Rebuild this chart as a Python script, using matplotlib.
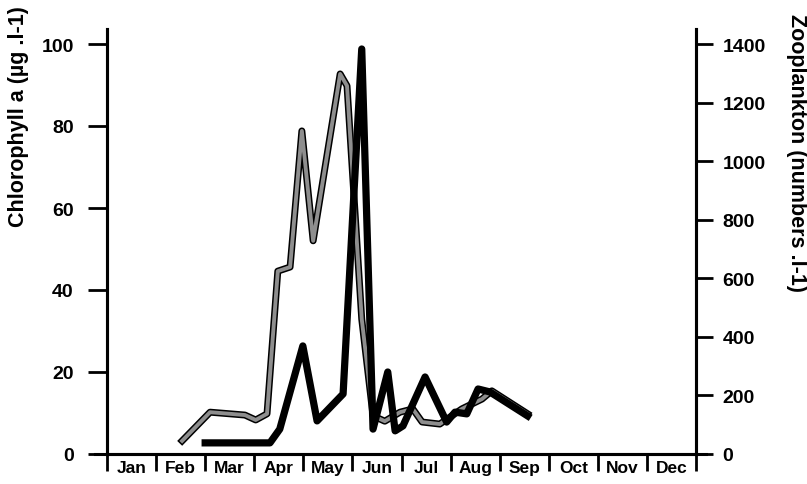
import matplotlib
matplotlib.use('Agg')
import matplotlib.pyplot as plt
import matplotlib.patheffects as pe

plt.rcParams['font.family'] = ['Liberation Sans', 'DejaVu Sans']
plt.rcParams['font.weight'] = 'bold'

# month axis: 0 = start of Jan, 12 = end of Dec
months = ['Jan', 'Feb', 'Mar', 'Apr', 'May', 'Jun', 'Jul', 'Aug', 'Sep', 'Oct', 'Nov', 'Dec']

# chlorophyll a (ug/l), grey line, left axis
chl_t = [1.53, 2.10, 2.81, 3.03, 3.26, 3.48, 3.73, 3.97, 4.20, 4.75, 4.89, 5.19, 5.42,
         5.66, 5.97, 6.23, 6.42, 6.78, 7.23, 7.64, 7.84, 8.57]
chl_v = [3.2, 10.2, 9.5, 8.3, 9.8, 44.6, 45.6, 78.8, 52.0, 92.7, 89.8, 32.9, 9.3,
         8.0, 10.2, 11.0, 7.8, 7.3, 11.0, 13.4, 15.4, 9.8]

# zooplankton (numbers/l), black line, right axis
zoo_t = [2.0, 3.32, 3.52, 3.99, 4.28, 4.81, 5.19, 5.42, 5.72, 5.87, 6.03, 6.48, 6.92,
         7.09, 7.33, 7.56, 7.80, 8.57]
zoo_v = [38, 38, 85, 369, 113, 205, 1383, 85, 280, 79, 96, 263, 109,
         143, 137, 222, 212, 130]

W, H = 807, 485
fig = plt.figure(figsize=(W / 100, H / 100), dpi=100)
ax = fig.add_axes([107 / W, 1 - 455 / H, (696 - 107) / W, (455 - 30) / H])
ax2 = ax.twinx()

ytop = (455 - 30) / 4.1
ax.set_ylim(0, ytop)
ax2.set_ylim(0, ytop * 14)
ax.set_xlim(0, 12)

ax.plot(chl_t, chl_v, color='#8e8e8e', lw=2.8, solid_joinstyle='round',
        path_effects=[pe.Stroke(linewidth=5.0, foreground='black'), pe.Normal()])
ax2.plot(zoo_t, zoo_v, color='black', lw=5.2, solid_joinstyle='round')

for a in (ax, ax2):
    for s in a.spines.values():
        s.set_linewidth(2.2)
    a.spines['top'].set_visible(False)

ax.set_yticks([0, 20, 40, 60, 80, 100])
ax.tick_params(axis='y', direction='out', length=14, width=2, pad=10, labelsize=14)
ax2.set_yticks([0, 200, 400, 600, 800, 1000, 1200, 1400])
ax2.tick_params(axis='y', direction='out', length=12, width=2, pad=7, labelsize=14)

ax.set_xticks(range(13))
ax.set_xticklabels([])
ax.set_xticks([i + 0.5 for i in range(12)], minor=True)
ax.set_xticklabels(months, minor=True)
ax.tick_params(axis='x', which='major', direction='out', length=12, width=2)
ax.tick_params(axis='x', which='minor', length=0, pad=4, labelsize=12.5)

# small overhangs of the axis lines at the corners
ax.plot([-0.25, 0], [0, 0], color='black', lw=2.2, clip_on=False)
ax.plot([12, 12.2], [0, 0], color='black', lw=2.2, clip_on=False)

fig.text(19 / W, 1 - 6 / H, 'Chlorophyll a (µg .l-1)', rotation=90,
         ha='center', va='top', fontsize=15.5, fontweight='bold')
fig.text(796 / W, 1 - 14 / H, 'Zooplankton (numbers .l-1)', rotation=-90,
         ha='center', va='top', fontsize=15.5, fontweight='bold')

fig.savefig('out.png', dpi=100)
